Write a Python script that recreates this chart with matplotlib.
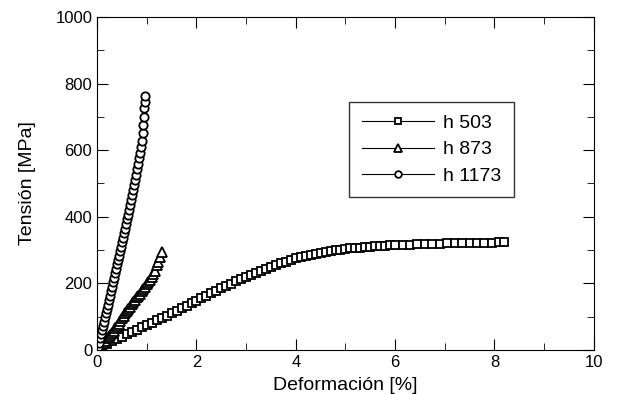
import numpy as np
import matplotlib
matplotlib.use("Agg")
import matplotlib.pyplot as plt
from matplotlib.ticker import MultipleLocator

plt.rcParams['font.family'] = ['Liberation Sans', 'DejaVu Sans']

# h 503 (squares)
strain_503 = [0.0, 0.05, 0.1, 0.2, 0.3, 0.4, 0.5, 0.6, 0.7, 0.8, 0.9, 1.0, 1.1, 1.2, 1.3, 1.4,
              1.5, 1.6, 1.7, 1.8, 1.9, 2.0, 2.1, 2.2, 2.3, 2.4, 2.5, 2.6, 2.7, 2.8, 2.9, 3.0,
              3.1, 3.2, 3.3, 3.4, 3.5, 3.6, 3.7, 3.8, 3.9, 4.0, 4.1, 4.2, 4.3, 4.4, 4.5, 4.6,
              4.7, 4.8, 4.9, 5.0, 5.1, 5.2, 5.3, 5.4, 5.5, 5.6, 5.7, 5.8, 5.9, 6.0, 6.15, 6.3,
              6.45, 6.6, 6.75, 6.9, 7.05, 7.2, 7.35, 7.5, 7.65, 7.8, 7.95, 8.1, 8.2]
stress_503 = [0, 5, 10, 18, 26, 33, 40, 47, 54, 61, 68, 75, 82, 89, 96, 103,
              110, 118, 125, 133, 140, 148, 155, 163, 170, 178, 185, 192, 199, 206, 213, 220,
              226, 232, 238, 244, 250, 255, 260, 265, 270, 275, 279, 282, 286, 289, 292, 294,
              297, 299, 301, 303, 305, 306, 307, 309, 310, 311, 312, 313, 314, 315, 316, 316,
              317, 318, 319, 319, 320, 320, 321, 321, 321, 322, 322, 323, 323]

# h 873 (triangles)
strain_873 = [0.0, 0.03, 0.06, 0.1, 0.13, 0.16, 0.2, 0.23, 0.26, 0.3, 0.33, 0.36, 0.4, 0.43,
              0.46, 0.5, 0.53, 0.56, 0.6, 0.63, 0.66, 0.7, 0.73, 0.76, 0.8, 0.83, 0.86, 0.9,
              0.93, 0.96, 1.0, 1.03, 1.06, 1.1, 1.13, 1.16, 1.2, 1.23, 1.27, 1.3]
stress_873 = [0, 5, 10, 17, 22, 28, 35, 40, 46, 52, 58, 65, 72, 78,
              86, 95, 103, 110, 118, 124, 130, 138, 144, 150, 158, 163, 169, 177,
              183, 189, 197, 203, 210, 220, 229, 238, 255, 265, 280, 295]

# h 1173 (circles)
strain_1173 = [0.0, 0.02, 0.04, 0.06, 0.08, 0.10, 0.12, 0.14, 0.16, 0.18, 0.20, 0.22, 0.24,
               0.26, 0.28, 0.30, 0.32, 0.34, 0.36, 0.38, 0.40, 0.42, 0.44, 0.46, 0.48, 0.50,
               0.52, 0.54, 0.56, 0.58, 0.60, 0.62, 0.64, 0.66, 0.68, 0.70, 0.72, 0.74, 0.76,
               0.78, 0.80, 0.82, 0.84, 0.86, 0.88, 0.90, 0.92, 0.93, 0.94, 0.95, 0.96, 0.97]
stress_1173 = [0, 10, 22, 35, 48, 60, 72, 85, 98, 110, 123, 136, 150,
               163, 176, 190, 203, 216, 230, 243, 257, 270, 283, 297, 310, 323,
               337, 350, 364, 378, 392, 406, 420, 435, 450, 465, 480, 495, 510,
               526, 542, 558, 575, 592, 610, 628, 650, 675, 700, 725, 745, 762]

labels = ["h 503", "h 873", "h 1173"]

fig = plt.figure(figsize=(6.23, 3.94), dpi=100)
ax = fig.add_axes([0.156, 0.112, 0.797, 0.845])

style = dict(color='black', lw=0.8, mfc='white', mec='black', mew=1.3)
ax.plot(strain_503, stress_503, marker='s', ms=5.5, label=labels[0], **style)
ax.plot(strain_873, stress_873, marker='^', ms=6.5, label=labels[1], **style)
ax.plot(strain_1173, stress_1173, marker='o', ms=6, label=labels[2], **style)

ax.set_xlim(0, 10)
ax.set_ylim(0, 1000)
ax.xaxis.set_major_locator(MultipleLocator(2))
ax.xaxis.set_minor_locator(MultipleLocator(1))
ax.yaxis.set_major_locator(MultipleLocator(200))
ax.yaxis.set_minor_locator(MultipleLocator(100))
ax.tick_params(which='both', direction='in', top=True, right=True, labelsize=12)
ax.tick_params(which='major', length=8)
ax.tick_params(which='minor', length=5)

ax.set_xlabel("Deformación [%]", fontsize=14, labelpad=5)
ax.set_ylabel("Tensión [MPa]", fontsize=14, labelpad=14)

leg = ax.legend(loc='upper left', bbox_to_anchor=(0.507, 0.745), fontsize=14,
                numpoints=1, handlelength=3.7, handletextpad=0.5, frameon=True,
                fancybox=False, edgecolor='black', borderpad=0.65, labelspacing=0.45,
                borderaxespad=0, markerscale=0.8)
leg.get_frame().set_linewidth(1.0)

fig.savefig('out.png', dpi=100)
